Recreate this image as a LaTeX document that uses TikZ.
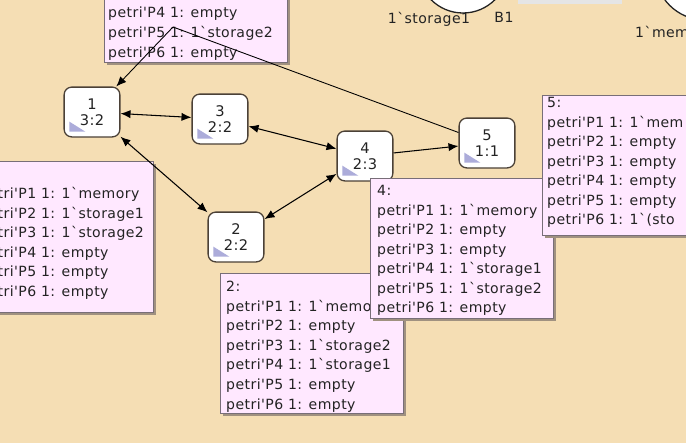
\documentclass[tikz,border=0pt]{standalone}
\usepackage{fontspec}
\setmainfont{DejaVu Sans}[Ligatures=TeXOff,LetterSpace=3]
\usetikzlibrary{arrows.meta}

\definecolor{wheatbg}{RGB}{245,222,180}
\definecolor{tipfill}{RGB}{255,232,255}
\definecolor{tipline}{RGB}{120,110,120}
\definecolor{tipshadow}{RGB}{160,145,128}
\definecolor{stateline}{RGB}{75,65,55}
\definecolor{tricol}{RGB}{172,172,218}
\definecolor{inkcol}{RGB}{35,35,35}

% tooltip box with its shadow
\newcommand{\tipbox}[4]{%
  \fill[tipshadow] (#1+3,#2+3) rectangle (#3+3,#4+3);
  \filldraw[fill=tipfill,draw=tipline,line width=0.6pt] (#1,#2) rectangle (#3,#4);}

\tikzset{
  state/.style={draw=stateline,fill=white,line width=1.1pt,rounded corners=6.5pt,
    minimum width=47.6pt,minimum height=42.5pt,inner sep=0pt,align=center,
    font=\fontsize{12.5}{14}\selectfont,text=inkcol},
  tiptext/.style={anchor=north west,inner sep=0pt,align=left,
    font=\fontsize{12}{16.7}\selectfont,text=inkcol},
  marking/.style={inner sep=0pt,font=\fontsize{12}{14}\selectfont,text=inkcol},
  edge/.style={line width=0.9pt,black},
}

\begin{document}
\begin{tikzpicture}[x=0.03cm,y=-0.03cm,>={Latex[length=8.5pt,width=7pt]}]
  \useasboundingbox (0,0) rectangle (686,443);
  \clip (0,0) rectangle (686,443);
  \fill[wheatbg] (0,0) rectangle (686,443);

  %------------------
  % places at the top
  %------------------
  \fill[black!10] (518,-5) rectangle (622,4);
  \filldraw[fill=white,draw=inkcol,line width=1.1pt] (463,-32) circle (45);
  \filldraw[fill=white,draw=inkcol,line width=1.1pt] (705,-30) circle (50);
  \node[marking] (mk1) at (429,19) {1`storage1};
  \node[marking] (b1) at (504,17) {B1};
  \node[marking,anchor=west] (mk2) at (635,32) {1`mem};

  % tooltip of the state above
  \tipbox{104}{-10}{287}{62}
  \node[tiptext] (t0) at (108,7) {petri'P4 1: empty\\petri'P5 1: 1`storage2\\petri'P6 1: empty};
  \coordinate (hub) at (173,27);

  %------------------
  % states
  %------------------
  \node[state] (n1) at (92,112) {1\\3:2};
  \node[state] (n3) at (220,119) {3\\2:2};
  \node[state] (n2) at (236,237) {2\\2:2};
  \node[state] (n4) at (365,156) {4\\2:3};
  \node[state] (n5) at (487,143) {5\\1:1};
  \foreach \s in {n1,n2,n3,n4,n5}
    \fill[tricol] ([shift={(5pt,13.6pt)}]\s.south west) -- ([shift={(5pt,5pt)}]\s.south west)
      -- ([shift={(18.7pt,5pt)}]\s.south west) -- cycle;

  \draw[line width=0.75pt,->] (hub) -- (n1);
  \draw[line width=0.75pt] (hub) -- (n5);

  %------------------
  % tooltips
  %------------------
  \tipbox{-10}{161}{153}{312}
  \node[tiptext] (t1) at (-21,187) {petri'P1 1: 1`memory\\petri'P2 1: 1`storage1\\petri'P3 1: 1`storage2\\petri'P4 1: empty\\petri'P5 1: empty\\petri'P6 1: empty};

  \tipbox{220}{273}{403}{413}
  \node[tiptext] (t2) at (226,281) {2:\\petri'P1 1: 1`memory\\petri'P2 1: empty\\petri'P3 1: 1`storage2\\petri'P4 1: 1`storage1\\petri'P5 1: empty\\petri'P6 1: empty};

  \tipbox{370}{178}{553}{318}
  \node[tiptext] (t4) at (377,185) {4:\\petri'P1 1: 1`memory\\petri'P2 1: empty\\petri'P3 1: empty\\petri'P4 1: 1`storage1\\petri'P5 1: 1`storage2\\petri'P6 1: empty};

  \tipbox{542}{95}{700}{235}
  \node[tiptext] (t5) at (547,97) {5:\\petri'P1 1: 1`mem\\petri'P2 1: empty\\petri'P3 1: empty\\petri'P4 1: empty\\petri'P5 1: empty\\petri'P6 1: 1`(sto};

  %------------------
  % arcs
  %------------------
  \draw[edge,<->] (n1) -- (n3);
  \draw[edge,<->] (n3) -- (n4);
  \draw[edge,<->] (n1) -- (n2);
  \draw[edge,<->] (n2) -- (n4);
  \draw[edge,->] (n4) -- (n5);
\end{tikzpicture}
\end{document}
